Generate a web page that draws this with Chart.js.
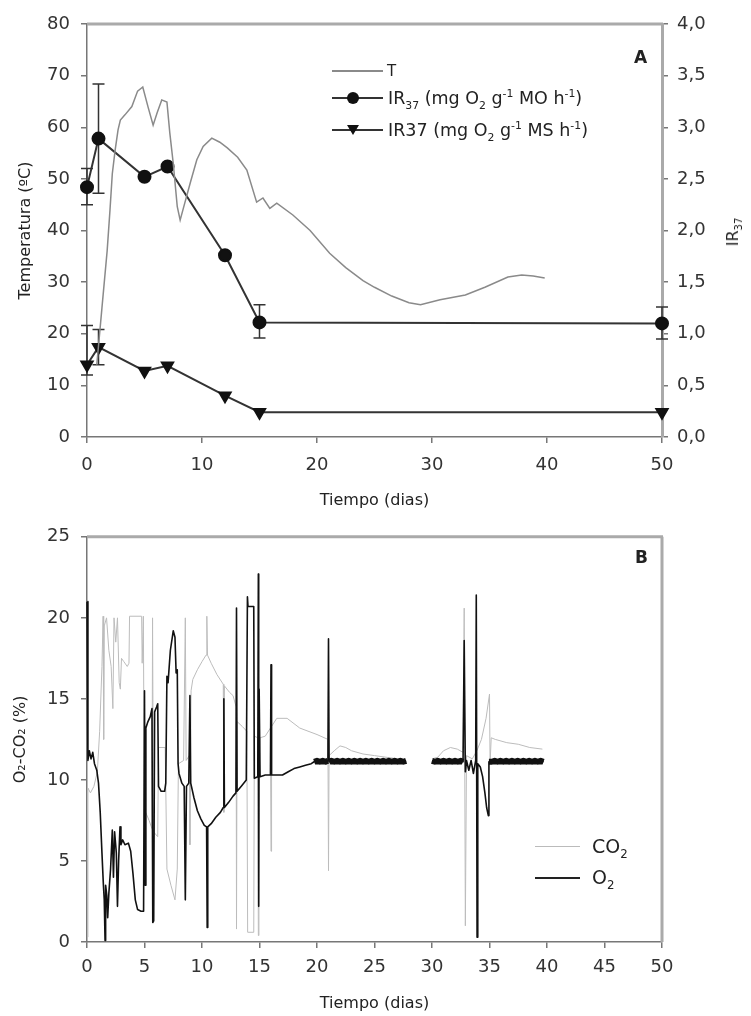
<!DOCTYPE html>
<html>
<head>
<meta charset="utf-8">
<script src="https://cdn.jsdelivr.net/npm/chart.js@4.4.1/dist/chart.umd.min.js"></script>
<style>
  body { margin: 0; background: #fff; }
  #page { position: relative; width: 751px; height: 1016px; font-family: "DejaVu Sans", sans-serif; color: #222; }
  canvas { position: absolute; left: 0; }
  .lbl { position: absolute; white-space: nowrap; line-height: 20px; }
  sub, sup { font-size: 62%; line-height: 0; }
  .ln { position: absolute; height: 0; }
</style>
</head>
<body>
<div id="page">
  <canvas id="chartA" width="751" height="515" style="top:0"></canvas>
  <canvas id="chartB" width="751" height="501" style="top:515px"></canvas>

  <!-- legend A -->
  <div class="ln" style="left:332px;top:70px;width:51px;border-top:2px solid #8a8a8a"></div>
  <div class="lbl" style="left:387px;top:61px;font-size:15px">T</div>
  <div class="ln" style="left:332px;top:97px;width:51px;border-top:2px solid #333"></div>
  <div style="position:absolute;left:347px;top:92px;width:12px;height:12px;border-radius:50%;background:#111"></div>
  <div class="lbl" style="left:388px;top:88px;font-size:17.5px">IR<sub>37</sub> (mg O<sub>2</sub> g<sup>-1</sup> MO h<sup>-1</sup>)</div>
  <div class="ln" style="left:332px;top:129px;width:51px;border-top:2px solid #333"></div>
  <div style="position:absolute;left:347px;top:125px;width:0;height:0;border-left:6px solid transparent;border-right:6px solid transparent;border-top:10px solid #111"></div>
  <div class="lbl" style="left:388px;top:120px;font-size:17.5px">IR37 (mg O<sub>2</sub> g<sup>-1</sup> MS h<sup>-1</sup>)</div>
  <div class="lbl" style="left:634px;top:47px;font-size:17px;font-weight:bold">A</div>
  <div class="lbl" style="left:733px;top:232px;font-size:16px;transform:translate(-50%,-50%) rotate(-90deg)">IR<sub>37</sub></div>

  <!-- legend B -->
  <div class="lbl" style="left:635px;top:547px;font-size:17px;font-weight:bold">B</div>
  <div class="ln" style="left:535px;top:846px;width:45px;border-top:1.5px solid #bbb"></div>
  <div class="lbl" style="left:592px;top:836px;font-size:19px">CO<sub>2</sub></div>
  <div class="ln" style="left:535px;top:877px;width:45px;border-top:2.5px solid #222"></div>
  <div class="lbl" style="left:592px;top:867px;font-size:19px">O<sub>2</sub></div>
</div>
<script>
// --- data ---
// temperature T (day, ºC)
const tempPoints = [
  [0.85, 14], [1.3, 25], [1.75, 36], [2.0, 44], [2.2, 51], [2.45, 55.6], [2.7, 59.5],
  [2.9, 61.4], [3.3, 62.4], [3.9, 64], [4.4, 67], [4.85, 67.8], [5.3, 64], [5.75, 60.4],
  [6.1, 62.8], [6.5, 65.3], [6.95, 64.9], [7.2, 58.9], [7.5, 53], [7.85, 44.6], [8.1, 42],
  [8.5, 45.3], [9.0, 49.4], [9.55, 53.7], [10.1, 56.3], [10.85, 57.9], [11.55, 57.1],
  [12.2, 56], [13.1, 54.2], [13.9, 51.7], [14.75, 45.5], [15.3, 46.3], [15.9, 44.3],
  [16.5, 45.3], [17.9, 43], [19.4, 40], [21.1, 35.6], [22.5, 32.8], [24.0, 30.3],
  [25.0, 29], [26.5, 27.3], [28.0, 26], [29.0, 25.6], [30.7, 26.6], [32.9, 27.5],
  [34.6, 29], [36.6, 31], [37.8, 31.4], [38.8, 31.2], [39.8, 30.8]
];
// respiration index IR37
const irDays = [0, 1, 5, 7, 12, 15, 50];
const irMO = [2.42, 2.89, 2.52, 2.62, 1.76, 1.11, 1.10];
const irMS = [0.70, 0.87, 0.64, 0.69, 0.40, 0.24, 0.24];
const irMOErr = [[2.25, 2.6], [2.36, 3.42], null, null, null, [0.96, 1.28], [0.95, 1.26]];
const irMSErr = [[0.6, 1.08], [0.70, 1.04], null, null, null, null, null];

// CO2 (day, %)
const co2Points = [
  [0, 0.3], [0.08, 9.5], [0.3, 9.2], [0.6, 9.6], [0.9, 10.5], [1.1, 13], [1.3, 17], [1.4, 20.1],
  [1.45, 12.5], [1.5, 19.5], [1.7, 20.0], [1.9, 18.0], [2.1, 17.0], [2.25, 14.4], [2.35, 20.0],
  [2.5, 18.5], [2.65, 20.0], [2.8, 16.0], [2.9, 15.6], [3.0, 17.5], [3.2, 17.3], [3.5, 17.0],
  [3.65, 17.2], [3.7, 20.1], [4.75, 20.1], [4.8, 17.2], [4.9, 20.1], [5.0, 6.0], [5.1, 8.0],
  [5.4, 7.5], [5.65, 7.0], [5.7, 20.0], [5.78, 6.8], [6.15, 6.5], [6.22, 12.0], [6.8, 12.0],
  [6.95, 4.5], [7.3, 3.5], [7.65, 2.6], [7.85, 4.5], [7.95, 11.0], [8.4, 11.2], [8.55, 20.0],
  [8.62, 11.2], [8.9, 11.5], [8.95, 6], [9.05, 15.5], [9.2, 16.2], [9.6, 16.8], [10.0, 17.3],
  [10.35, 17.7], [10.42, 20.1], [10.48, 17.7], [10.8, 17.2], [11.3, 16.5], [11.85, 15.9],
  [11.9, 8], [11.95, 15.8], [12.4, 15.4], [12.7, 15.2], [12.97, 14.5], [13.0, 0.8], [13.05, 13.6],
  [13.5, 13.3], [13.9, 13.0], [13.97, 0.6], [14.5, 0.6], [14.55, 12.7], [14.85, 12.6], [14.9, 0.4],
  [14.95, 10], [15.05, 12.6], [15.5, 12.7], [15.95, 13.2], [16.0, 5.6], [16.05, 13.3], [16.5, 13.8],
  [17.4, 13.8], [18.5, 13.2], [20.0, 12.8], [20.95, 12.5], [21.0, 4.4], [21.05, 11.5], [21.5, 11.8],
  [22.0, 12.1], [22.5, 12.0], [23.0, 11.8], [24.0, 11.6], [25.0, 11.5], [26.0, 11.4], [27.0, 11.3],
  [27.75, 11.2], [28.9, null], [30.0, 11.3], [30.5, 11.4], [31.0, 11.8], [31.6, 12.0], [32.2, 11.9],
  [32.7, 11.7], [32.8, 20.6], [32.9, 1.0], [33.0, 11.5], [33.5, 11.3], [33.9, 11.8], [34.3, 12.5],
  [34.7, 13.8], [35.0, 15.3], [35.05, 11.0], [35.15, 12.6], [35.5, 12.5], [36.5, 12.3],
  [37.5, 12.2], [38.5, 12.0], [39.6, 11.9]
];
// O2 (day, %)
const o2Points = [
  [0, 21.0], [0.08, 11.2], [0.2, 11.8], [0.35, 11.3], [0.5, 11.7], [0.65, 11.0], [0.85, 10.6],
  [1.0, 9.8], [1.15, 8.0], [1.3, 5.5], [1.42, 3.6], [1.5, 2.6], [1.57, 0.1], [1.62, 3.5],
  [1.72, 2.9], [1.8, 1.5], [1.9, 3.0], [2.05, 4.5], [2.2, 6.9], [2.3, 4.0], [2.4, 6.8],
  [2.55, 5.5], [2.65, 2.2], [2.75, 5.0], [2.87, 7.1], [2.95, 6.0], [3.1, 6.3], [3.3, 6.0],
  [3.6, 6.1], [3.8, 5.6], [4.0, 4.2], [4.2, 2.6], [4.4, 2.0], [4.7, 1.9], [4.92, 1.9],
  [5.0, 15.5], [5.06, 3.5], [5.12, 13.2], [5.3, 13.6], [5.5, 13.9], [5.65, 14.4], [5.72, 1.2],
  [5.8, 1.3], [5.88, 14.2], [6.05, 14.5], [6.15, 14.7], [6.22, 9.6], [6.45, 9.3], [6.75, 9.3],
  [6.85, 9.8], [6.95, 16.4], [7.05, 16.0], [7.25, 18.0], [7.5, 19.2], [7.65, 18.8], [7.75, 16.6],
  [7.85, 16.8], [7.92, 11.0], [8.0, 10.4], [8.25, 9.8], [8.45, 9.6], [8.55, 2.6], [8.65, 9.6],
  [8.85, 9.8], [8.95, 15.2], [9.02, 9.8], [9.3, 8.9], [9.6, 8.1], [9.9, 7.6], [10.2, 7.2],
  [10.4, 7.1], [10.45, 0.9], [10.5, 7.1], [10.8, 7.3], [11.2, 7.7], [11.6, 8.0], [11.85, 8.3],
  [11.9, 15.0], [11.95, 8.3], [12.3, 8.6], [12.7, 9.0], [12.95, 9.2], [13.0, 20.6], [13.05, 9.3],
  [13.4, 9.6], [13.85, 10.0], [13.95, 21.3], [14.0, 20.7], [14.5, 20.7], [14.55, 10.1],
  [14.85, 10.2], [14.9, 22.7], [14.93, 2.2], [14.97, 15.6], [15.05, 10.2], [15.5, 10.3],
  [15.95, 10.3], [16.0, 17.1], [16.05, 10.3], [16.5, 10.3], [17.0, 10.3], [17.5, 10.5],
  [18.0, 10.7], [18.5, 10.8], [19.0, 10.9], [19.5, 11.0], [19.75, 11.12],
  [20.0, 11.18], [20.25, 11.12], [20.5, 11.18], [20.75, 11.12], [20.95, 11.18], [21.0, 18.7],
  [21.05, 11.12], [21.25, 11.18], [21.5, 11.12], [21.75, 11.18], [22.0, 11.12], [22.25, 11.18],
  [22.5, 11.12], [22.75, 11.18], [23.0, 11.12], [23.25, 11.18], [23.5, 11.12], [23.75, 11.18],
  [24.0, 11.12], [24.25, 11.18], [24.5, 11.12], [24.75, 11.18], [25.0, 11.12], [25.25, 11.18],
  [25.5, 11.12], [25.75, 11.18], [26.0, 11.12], [26.25, 11.18], [26.5, 11.12], [26.75, 11.18],
  [27.0, 11.12], [27.25, 11.18], [27.5, 11.12], [27.75, 11.18],
  [28.9, null],
  [30.0, 11.18], [30.25, 11.12], [30.5, 11.18], [30.75, 11.12], [31.0, 11.18], [31.25, 11.12],
  [31.5, 11.18], [31.75, 11.12], [32.0, 11.18], [32.25, 11.12], [32.5, 11.18], [32.7, 11.12],
  [32.8, 18.6], [32.9, 10.5], [33.0, 11.2], [33.2, 10.6], [33.4, 11.2], [33.6, 10.4],
  [33.8, 11.2], [33.85, 21.4], [33.92, 0.3], [33.98, 11.0], [34.2, 10.8], [34.4, 10.2],
  [34.6, 9.2], [34.75, 8.3], [34.9, 7.8], [34.95, 11.12], [35.2, 11.12], [35.45, 11.18],
  [35.7, 11.12], [35.95, 11.18], [36.2, 11.12], [36.45, 11.18], [36.7, 11.12], [36.95, 11.18],
  [37.2, 11.12], [37.45, 11.18], [37.7, 11.12], [37.95, 11.18], [38.2, 11.12], [38.45, 11.18],
  [38.7, 11.12], [38.95, 11.18], [39.2, 11.12], [39.45, 11.18], [39.7, 11.12]
];

const toXY = pts => pts.map(([x, y]) => ({ x: x, y: y }));
const tickFont = { family: 'DejaVu Sans', size: 18 };
const titleFont = { family: 'DejaVu Sans', size: 16 };
const tickGrid = { display: true, drawOnChartArea: false, drawTicks: true, tickLength: 6, color: '#777', lineWidth: 1.5 };
const axisBorder = { display: true, color: '#777', width: 1.5 };

// the noisy O2 record from day 20 on reads as a thick black band
const inBand = v => v && v.x >= 19.7 && v.y > 11.05 && v.y < 11.25;
const bandPlugin = {
  id: 'band',
  afterDatasetsDraw(chart) {
    const idx = chart.data.datasets.findIndex(d => d.label === 'O2');
    const meta = chart.getDatasetMeta(idx);
    const raw = chart.data.datasets[idx].data;
    const ctx = chart.ctx;
    ctx.save();
    ctx.strokeStyle = '#111';
    ctx.lineWidth = 6;
    ctx.lineCap = 'butt';
    ctx.lineJoin = 'round';
    ctx.beginPath();
    let open = false;
    for (let i = 0; i < meta.data.length; i++) {
      const p = meta.data[i];
      if (inBand(raw[i])) {
        if (open) ctx.lineTo(p.x, p.y); else { ctx.moveTo(p.x, p.y); open = true; }
      } else {
        open = false;
      }
    }
    ctx.stroke();
    ctx.restore();
  }
};

// top / right frame lines
const framePlugin = {
  id: 'frame',
  afterDraw(chart, args, opts) {
    const ctx = chart.ctx, a = chart.chartArea;
    ctx.save();
    ctx.strokeStyle = '#aaa';
    ctx.lineWidth = 3;
    ctx.beginPath();
    if (opts.top) { ctx.moveTo(a.left, a.top); ctx.lineTo(a.right + 1, a.top); }
    if (opts.right) { ctx.moveTo(a.right, a.top); ctx.lineTo(a.right, a.bottom); }
    ctx.stroke();
    ctx.restore();
  }
};

// error bars for the IR series
const errorBarPlugin = {
  id: 'errorBars',
  beforeDatasetsDraw(chart) {
    const ctx = chart.ctx;
    const xs = chart.scales.x;
    chart.data.datasets.forEach(ds => {
      if (!ds.errors) return;
      const ys = chart.scales[ds.yAxisID];
      ds.errors.forEach((e, i) => {
        if (!e) return;
        const x = xs.getPixelForValue(ds.data[i].x);
        const y1 = ys.getPixelForValue(e[0]);
        const y2 = ys.getPixelForValue(e[1]);
        ctx.save();
        ctx.strokeStyle = '#333';
        ctx.lineWidth = 1.5;
        ctx.beginPath();
        ctx.moveTo(x, y1); ctx.lineTo(x, y2);
        ctx.moveTo(x - 6, y1); ctx.lineTo(x + 6, y1);
        ctx.moveTo(x - 6, y2); ctx.lineTo(x + 6, y2);
        ctx.stroke();
        ctx.restore();
      });
    });
  }
};

new Chart(document.getElementById('chartA'), {
  type: 'line',
  data: {
    datasets: [
      {
        label: 'T', data: toXY(tempPoints), yAxisID: 'y',
        borderColor: '#8a8a8a', borderWidth: 1.5, pointRadius: 0, tension: 0, clip: false
      },
      {
        label: 'IR37 MO', data: irDays.map((d, i) => ({ x: d, y: irMO[i] })), yAxisID: 'y2',
        borderColor: '#333', borderWidth: 2, pointStyle: 'circle', pointRadius: 6,
        pointBackgroundColor: '#111', pointBorderColor: '#111', clip: false, errors: irMOErr
      },
      {
        label: 'IR37 MS', data: irDays.map((d, i) => ({ x: d, y: irMS[i] })), yAxisID: 'y2',
        borderColor: '#333', borderWidth: 2, pointStyle: 'triangle', rotation: 180, pointRadius: 6.5,
        pointBackgroundColor: '#111', pointBorderColor: '#111', clip: false, errors: irMSErr
      }
    ]
  },
  options: {
    responsive: false,
    animation: false,
    layout: { padding: { top: 24, left: 0, right: 0, bottom: 0 } },
    plugins: { legend: { display: false }, tooltip: { enabled: false }, frame: { top: true } },
    scales: {
      x: {
        type: 'linear', min: 0, max: 50,
        ticks: { stepSize: 10, font: tickFont, color: '#333', padding: 12 },
        grid: tickGrid, border: axisBorder,
        title: { display: true, text: 'Tiempo (dias)', font: titleFont, color: '#222', padding: { top: 0, bottom: 5 } },
        afterFit: s => { s.height = 78; }
      },
      y: {
        position: 'left', min: 0, max: 80,
        ticks: { stepSize: 10, font: tickFont, color: '#333', padding: 11 },
        grid: tickGrid, border: axisBorder,
        title: { display: true, text: 'Temperatura (ºC)', font: titleFont, color: '#222', padding: { top: 16, bottom: 0 } },
        afterFit: s => { s.width = 87; }
      },
      y2: {
        position: 'right', min: 0, max: 4,
        ticks: { stepSize: 0.5, font: tickFont, color: '#333', padding: 9, callback: v => v.toFixed(1).replace('.', ',') },
        grid: tickGrid, border: { display: true, color: '#aaa', width: 3 },
        afterFit: s => { s.width = 89; }
      }
    }
  },
  plugins: [framePlugin, errorBarPlugin]
});

new Chart(document.getElementById('chartB'), {
  type: 'line',
  data: {
    datasets: [
      {
        label: 'CO2', data: toXY(co2Points), order: 1,
        borderColor: '#bcbcbc', borderWidth: 1, pointRadius: 0, tension: 0, spanGaps: false, clip: false
      },
      {
        label: 'O2', data: toXY(o2Points), order: 0,
        borderColor: '#111', borderWidth: 1.6, pointRadius: 0, tension: 0, spanGaps: false, clip: false,
        borderJoinStyle: 'round'
      }
    ]
  },
  options: {
    responsive: false,
    animation: false,
    layout: { padding: { top: 11, left: 0, right: 89, bottom: 0 } },
    plugins: { legend: { display: false }, tooltip: { enabled: false }, frame: { top: true, right: true } },
    scales: {
      x: {
        type: 'linear', min: 0, max: 50,
        ticks: { stepSize: 5, font: tickFont, color: '#333', padding: 9 },
        grid: tickGrid, border: axisBorder,
        title: { display: true, text: 'Tiempo (dias)', font: titleFont, color: '#222', padding: { top: 0, bottom: 3 } },
        afterFit: s => { s.height = 74; }
      },
      y: {
        position: 'left', min: 0, max: 25,
        ticks: { stepSize: 5, font: tickFont, color: '#333', padding: 11 },
        grid: tickGrid, border: axisBorder,
        title: { display: true, text: 'O₂-CO₂ (%)', font: titleFont, color: '#222', padding: { top: 11, bottom: 0 } },
        afterFit: s => { s.width = 87; }
      }
    }
  },
  plugins: [framePlugin, bandPlugin]
});
</script>
</body>
</html>
